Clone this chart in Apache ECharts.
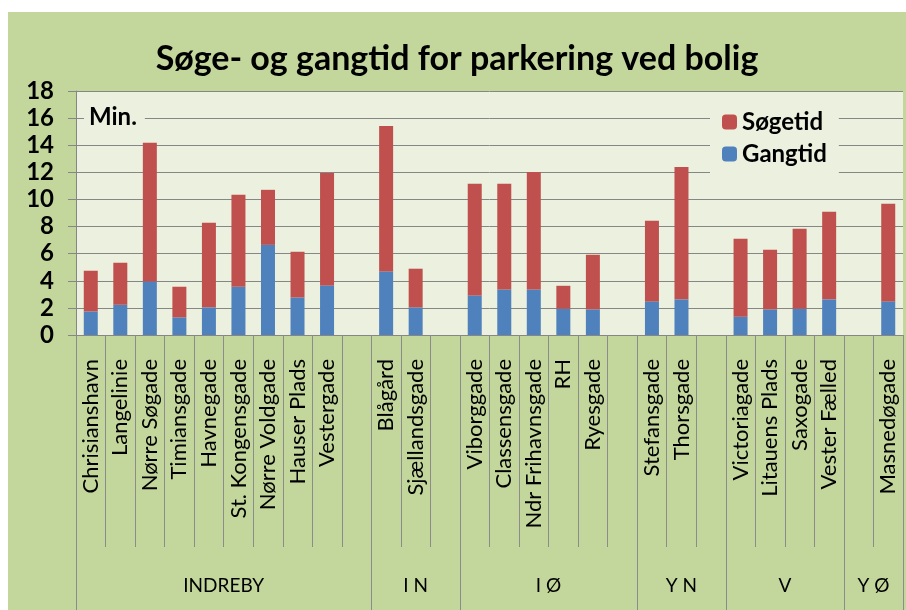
<!DOCTYPE html>
<html>
<head>
<meta charset="utf-8">
<script src="https://cdn.jsdelivr.net/npm/echarts@6/dist/echarts.min.js"></script>
<style>
  html, body { margin: 0; padding: 0; background: #ffffff; }
  #chart { position: absolute; left: 8px; top: 12px; width: 898px; height: 598px; }
</style>
</head>
<body>
<div id="chart"></div>
<script>
// gader (tomme felter = mellemrum mellem bydele)
var categories = [
  'Chrisianshavn', 'Langelinie', 'Nørre Søgade', 'Timiansgade', 'Havnegade',
  'St. Kongensgade', 'Nørre Voldgade', 'Hauser Plads', 'Vestergade', '',
  'Blågård', 'Sjællandsgade', '',
  'Viborggade', 'Classensgade', 'Ndr Frihavnsgade', 'RH', 'Ryesgade', '',
  'Stefansgade', 'Thorsgade', '',
  'Victoriagade', 'Litauens Plads', 'Saxogade', 'Vester Fælled',
  '', 'Masnedøgade'
];
// minutter
var gangtid = [
  1.74, 2.23, 3.95, 1.30, 2.04, 3.56, 6.65, 2.77, 3.66, null,
  4.69, 2.04, null,
  2.92, 3.36, 3.36, 1.94, 1.89, null,
  2.48, 2.63, null,
  1.35, 1.89, 1.94, 2.63,
  null, 2.48
];
var soegetid = [
  3.00, 3.10, 10.24, 2.26, 6.24, 6.78, 4.06, 3.37, 8.30, null,
  10.73, 2.85, null,
  8.23, 7.79, 8.67, 1.69, 4.03, null,
  5.94, 9.77, null,
  5.75, 4.40, 5.89, 6.46,
  null, 7.20
];
// bydele og hvor mange felter de dækker
var districts = ['INDREBY', 'I N', 'I Ø', 'Y N', 'V', 'Y Ø'];
var districtSpan = [10, 3, 6, 3, 4, 2];
var yTicks = { min: 0, max: 18, step: 2 };

var FONT = 'Lato';
var groupStart = [];
var acc = 0;
districtSpan.forEach(function (n) { groupStart.push(acc); acc += n; });

var myChart = echarts.init(document.getElementById('chart'));
var option = {
  backgroundColor: '#c3d69b',
  animation: false,
  title: {
    text: 'Søge- og gangtid for parkering ved bolig',
    left: 'center',
    top: 25,
    textStyle: { fontFamily: FONT, fontWeight: 'bold', fontSize: 34, color: '#000' }
  },
  legend: {
    orient: 'vertical',
    left: 702,
    top: 89,
    padding: [9, 12, 8, 12],
    itemGap: 8,
    itemWidth: 15,
    itemHeight: 15,
    backgroundColor: '#ebf1de',
    data: ['Søgetid', 'Gangtid'],
    textStyle: { fontFamily: FONT, fontWeight: 'bold', fontSize: 24, color: '#000' }
  },
  grid: {
    left: 68, right: 3, top: 79, bottom: 275,
    show: true, backgroundColor: '#ebf1de', borderWidth: 0
  },
  xAxis: [
    {
      type: 'category',
      data: categories,
      axisLine: { lineStyle: { color: '#868686', width: 1 } },
      axisTick: { show: true, interval: 0, length: 212, lineStyle: { color: '#8c8c8c', width: 1 } },
      axisLabel: {
        interval: 0, rotate: 90, margin: 24,
        fontFamily: FONT, fontSize: 22, color: '#000'
      }
    },
    {
      type: 'category',
      data: categories,
      position: 'bottom',
      axisLine: { show: false },
      axisLabel: { show: false },
      axisTick: {
        show: true, length: 275,
        interval: function (index) { return groupStart.indexOf(index) >= 0; },
        lineStyle: { color: '#8c8c8c', width: 1 }
      }
    }
  ],
  yAxis: {
    type: 'value',
    min: yTicks.min, max: yTicks.max, interval: yTicks.step,
    axisLine: { show: true, lineStyle: { color: '#868686', width: 1 } },
    axisTick: { show: true, length: 8, lineStyle: { color: '#868686' } },
    axisLabel: { margin: 22, fontFamily: FONT, fontWeight: 'bold', fontSize: 24, color: '#000' },
    splitLine: { lineStyle: { color: '#868686', width: 1 } }
  },
  series: [
    {
      name: 'Gangtid', type: 'bar', stack: 'tid', barWidth: 14,
      itemStyle: { color: '#4f81bd' },
      data: gangtid
    },
    {
      name: 'Søgetid', type: 'bar', stack: 'tid', barWidth: 14,
      itemStyle: { color: '#c0504d' },
      data: soegetid
    }
  ]
};
myChart.setOption(option);

// bydelsnavne under akserne + "Min."
var graphics = [];
districts.forEach(function (name, i) {
  var a = groupStart[i], b = a + districtSpan[i] - 1;
  var xa = myChart.convertToPixel({ xAxisIndex: 0 }, a);
  var xb = myChart.convertToPixel({ xAxisIndex: 0 }, b);
  graphics.push({
    type: 'text',
    x: (xa + xb) / 2,
    y: 574,
    style: {
      text: name, align: 'center', verticalAlign: 'middle',
      font: '19px ' + FONT, fill: '#000'
    }
  });
});
var y16 = myChart.convertToPixel({ yAxisIndex: 0 }, 16);
graphics.push({
  type: 'text',
  x: 76,
  y: y16 - 1,
  style: {
    text: 'Min.', verticalAlign: 'middle',
    font: 'bold 24px ' + FONT, fill: '#000',
    backgroundColor: '#ebf1de', padding: [2, 8, 2, 5]
  }
});
myChart.setOption({ graphic: graphics });
</script>
</body>
</html>
